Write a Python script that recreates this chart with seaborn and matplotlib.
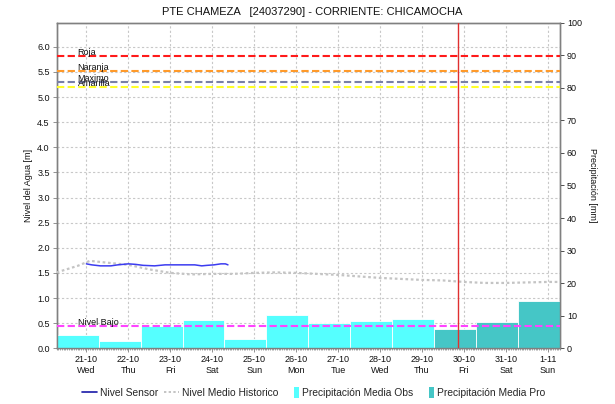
import matplotlib
matplotlib.use("Agg")
import matplotlib.pyplot as plt
import matplotlib.dates as mdates
import matplotlib.patches as mpatches
from matplotlib.lines import Line2D
from matplotlib.legend_handler import HandlerPatch
from matplotlib.ticker import FuncFormatter, MultipleLocator
import pandas as pd
import seaborn as sns

# ---- data -------------------------------------------------------------
station_title = "PTE CHAMEZA   [24037290] - CORRIENTE: CHICAMOCHA"

# daily precipitation (07:00 -> 07:00), observed then forecast, in mm
precip_day_start = pd.Timestamp("2020-10-20 07:00")
precip_obs = [4.2, 2.2, 6.9, 8.7, 2.9, 10.2, 7.8, 8.5, 9.0]
precip_pro = [5.9, 8.2, 14.6]

# water level from the sensor, in m
sensor_times = pd.to_datetime([
    "2020-10-21 00:00", "2020-10-21 03:00", "2020-10-21 08:00", "2020-10-21 14:00",
    "2020-10-21 18:00", "2020-10-22 00:00", "2020-10-22 04:00", "2020-10-22 08:30",
    "2020-10-22 15:00", "2020-10-22 21:00", "2020-10-23 05:00", "2020-10-23 14:00",
    "2020-10-23 18:00", "2020-10-23 21:00", "2020-10-24 01:00", "2020-10-24 05:00",
    "2020-10-24 07:30", "2020-10-24 09:00",
])
sensor_level = [1.68, 1.66, 1.64, 1.64, 1.66, 1.68, 1.67, 1.65, 1.64, 1.66,
                1.66, 1.66, 1.64, 1.65, 1.66, 1.68, 1.68, 1.66]

# historical mean level, in m
hist_times = pd.to_datetime([
    "2020-10-20 07:00", "2020-10-20 19:00", "2020-10-21 02:00", "2020-10-21 10:00",
    "2020-10-22 00:00", "2020-10-22 12:00", "2020-10-23 00:00", "2020-10-23 12:00",
    "2020-10-24 00:00", "2020-10-24 12:00", "2020-10-25 00:00", "2020-10-25 12:00",
    "2020-10-26 00:00", "2020-10-26 12:00", "2020-10-27 00:00", "2020-10-27 12:00",
    "2020-10-28 00:00", "2020-10-28 12:00", "2020-10-29 00:00", "2020-10-29 12:00",
    "2020-10-30 00:00", "2020-10-30 12:00", "2020-10-31 00:00", "2020-10-31 12:00",
    "2020-11-01 00:00", "2020-11-01 07:00",
])
hist_level = [1.51, 1.64, 1.74, 1.71, 1.66, 1.57, 1.50, 1.47, 1.48, 1.48,
              1.50, 1.51, 1.50, 1.48, 1.46, 1.43, 1.40, 1.38, 1.36, 1.35,
              1.32, 1.30, 1.30, 1.31, 1.32, 1.32]

# alert thresholds, in m
threshold_names = ["Roja", "Naranja", "Maximo", "Amarilla", "Nivel Bajo"]
threshold_values = [5.82, 5.52, 5.30, 5.20, 0.45]
threshold_colors = ["#ff1a1a", "#ff9a2a", "#7880a8", "#ffff2a", "#ff44ff"]

current_time = pd.Timestamp("2020-10-29 20:30")

legend_labels = ["Nivel Sensor", "Nivel Medio Historico",
                 "Precipitación Media Obs", "Precipitación Media Pro"]

# ---- styling ----------------------------------------------------------
sns.set_theme(style="white")
plt.rcParams["font.family"] = ["Liberation Sans", "DejaVu Sans"]
plt.rcParams["axes.edgecolor"] = "#808080"
plt.rcParams["axes.linewidth"] = 1.0

obs_color = "#55ffff"
pro_color = "#45c6c6"
sensor_color = "#3c3cf0"
hist_color = "#c4c4c4"
grid_color = "#c8c8c8"
tick_fs = 6.5

fig = plt.figure(figsize=(6.15, 4.04), dpi=100)
ax = fig.add_axes([0.0922, 0.138, 0.8184, 0.8058])   # back layer: level axis + grid
ax_p = ax.twinx()                                    # precipitation bars
ax_l = ax.twinx()                                    # level lines on top

x_start = pd.Timestamp("2020-10-20 07:00")
x_end = pd.Timestamp("2020-11-01 07:00")
level_max = 6.48

for a in (ax, ax_p, ax_l):
    a.set_xlim(x_start, x_end)
ax.set_ylim(0, level_max)
ax_l.set_ylim(0, level_max)
ax_p.set_ylim(0, 100)

# grid on the back axis
ax.yaxis.set_major_locator(MultipleLocator(0.5))
ax.xaxis.set_major_locator(mdates.DayLocator())
ax.xaxis.set_minor_locator(mdates.HourLocator())
ax.grid(True, which="major", color=grid_color, linestyle=(0, (2, 2)), linewidth=0.8)
ax.set_axisbelow(True)

# precipitation bars
all_precip = precip_obs + precip_pro
starts = [precip_day_start + pd.Timedelta(days=i) for i in range(len(all_precip))]
colors = [obs_color] * len(precip_obs) + [pro_color] * len(precip_pro)
ax_p.bar(starts, all_precip, width=1.0, align="edge", color=colors,
         edgecolor="white", linewidth=0.6)

# level lines
sns.lineplot(x=hist_times, y=hist_level, ax=ax_l, color=hist_color,
             linestyle=(0, (1.2, 1.2)), linewidth=1.6, legend=False)
sns.lineplot(x=sensor_times, y=sensor_level, ax=ax_l, color=sensor_color,
             linewidth=1.1, legend=False)

label_x = pd.Timestamp("2020-10-20 19:00")
for name, val, col in zip(threshold_names, threshold_values, threshold_colors):
    ax_l.axhline(val, color=col, linestyle=(0, (3.5, 1.6)), linewidth=1.5)
    ax_l.text(label_x, val - 0.02, name, fontsize=6.5, color="#111111",
              ha="left", va="bottom")

ax_l.axvline(current_time, color="#e03030", linewidth=1.0)

# axes cosmetics
for a in (ax_p, ax_l):
    a.grid(False)
ax_l.yaxis.set_visible(False)
for s in ax_l.spines.values():
    s.set_visible(False)
ax_l.set_ylabel("")
ax_l.set_xlabel("")

def day_label(x, pos):
    d = mdates.num2date(x)
    return f"{d.day}-{d.month:02d}\n{d:%a}"

ax.xaxis.set_major_formatter(FuncFormatter(day_label))
ax.tick_params(axis="x", which="major", length=3, width=0.6, color="#808080",
               labelsize=tick_fs, pad=2, bottom=True, labelcolor="#111111")
ax.tick_params(axis="x", which="minor", length=1.5, width=0.5, color="#808080",
               bottom=True)
ax.tick_params(axis="y", length=3, width=0.6, color="#808080", labelsize=tick_fs,
               pad=2, left=True, labelcolor="#111111")
ax.yaxis.set_major_formatter(FuncFormatter(lambda v, p: f"{v:.1f}" if v <= 6.01 else ""))
ax.set_ylabel("Nivel del Agua [m]", fontsize=tick_fs, labelpad=3, color="#111111")

ax_p.yaxis.set_major_locator(MultipleLocator(10))
ax_p.tick_params(axis="y", length=3, width=0.6, color="#333333", labelsize=tick_fs,
                 pad=2, right=True, labelcolor="#111111")
ax_p.set_ylabel("Precipitación [mm]", fontsize=tick_fs, rotation=270, labelpad=11,
                color="#111111")
ax_p.xaxis.set_visible(False)

for a in (ax_l, ax_p):
    a.tick_params(axis="x", which="both", bottom=False, labelbottom=False)

fig.text(0.508, 0.971, station_title, ha="center", va="center", fontsize=8,
         color="#111111")

# legend
class NarrowPatch(HandlerPatch):
    def create_artists(self, legend, orig_handle, xdescent, ydescent, width,
                       height, fontsize, trans):
        w = height * 0.75
        p = mpatches.Rectangle((width - w - xdescent, -ydescent - height * 0.3),
                               w, height * 1.6,
                               facecolor=orig_handle.get_facecolor(),
                               edgecolor="none", transform=trans)
        return [p]

handles = [
    Line2D([0], [0], color="#1a1aa8", linewidth=1.2),
    Line2D([0], [0], color=hist_color, linewidth=1.4, linestyle=(0, (1.2, 1.2))),
    mpatches.Patch(facecolor=obs_color),
    mpatches.Patch(facecolor=pro_color),
]
fig.legend(handles, legend_labels, loc="center", bbox_to_anchor=(0.51, 0.027),
           ncol=4, frameon=False, fontsize=7.4, handlelength=1.5,
           handletextpad=0.3, columnspacing=0.5,
           handler_map={mpatches.Patch: NarrowPatch()})

fig.savefig("out.png", dpi=100)
